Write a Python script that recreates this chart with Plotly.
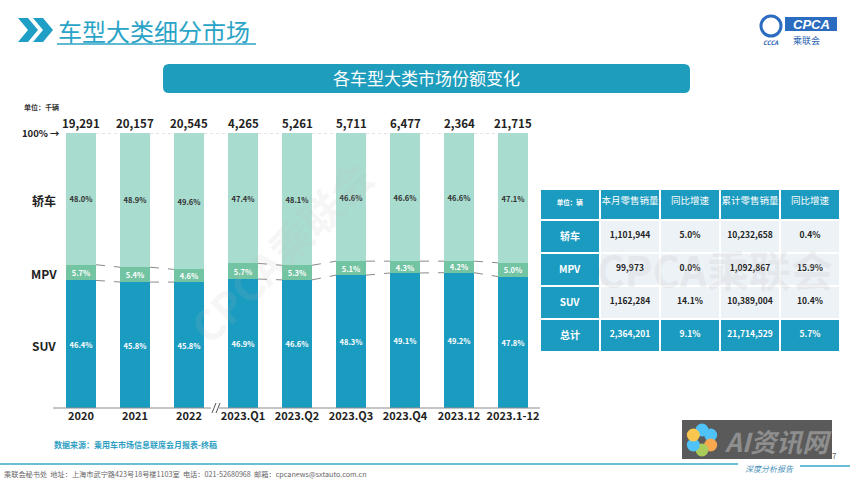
import math
import plotly.graph_objects as go

# ---------------- data ----------------
categories = ["2020", "2021", "2022", "2023.Q1", "2023.Q2", "2023.Q3", "2023.Q4", "2023.12", "2023.1-12"]
totals = [19291, 20157, 20545, 4265, 5261, 5711, 6477, 2364, 21715]
suv_share = [46.4, 45.8, 45.8, 46.9, 46.6, 48.3, 49.1, 49.2, 47.8]
mpv_share = [5.7, 5.4, 4.6, 5.7, 5.3, 5.1, 4.3, 4.2, 5.0]
sedan_share = [48.0, 48.9, 49.6, 47.4, 48.1, 46.6, 46.6, 46.6, 47.1]
segment_labels = ["轿车", "MPV", "SUV"]

table_header = ["单位：辆", "本月零售销量", "同比增速", "累计零售销量", "同比增速"]
table_rows = ["轿车", "MPV", "SUV", "总计"]
month_sales = [1101944, 99973, 1162284, 2364201]
month_yoy = ["5.0%", "0.0%", "14.1%", "9.1%"]
cum_sales = [10232658, 1092867, 10389004, 21714529]
cum_yoy = ["0.4%", "15.9%", "10.4%", "5.7%"]

# ---------------- styles ----------------
W, H = 852, 480
TEAL = "#1b9bc0"
SEDAN_C = "#a8dccf"
MPV_C = "#72c4a2"
SUV_C = "#1a9bc0"
FONT = "Noto Sans CJK SC, Noto Sans, Open Sans, sans-serif"


def px(x):
    return x / W


def py(y):
    return 1 - y / H


shapes = []
annotations = []


def note(x, y, text, size, color, xanchor="center", yanchor="middle", **kw):
    font = dict(size=size, color=color)
    font.update(kw.pop("font", {}))
    annotations.append(dict(x=px(x), y=py(y), xref="paper", yref="paper", text=text,
                            showarrow=False, xanchor=xanchor, yanchor=yanchor,
                            font=font, **kw))


x_idx = list(range(len(categories)))
BW = 30 / 54

fig = go.Figure()

for vals, col, tcol in ((suv_share, SUV_C, "white"), (mpv_share, MPV_C, "white"),
                        (sedan_share, SEDAN_C, "#333333")):
    fig.add_trace(go.Bar(
        x=x_idx, y=vals, width=BW, marker=dict(color=col, line=dict(width=0)),
        texttemplate="%{y:.1f}%", textposition="inside", insidetextanchor="middle",
        constraintext="none", textfont=dict(size=7.5, color=tcol, weight="bold"),
        hoverinfo="skip"))

# dashed connectors between MPV boundaries
lx, ly, ux, uy = [], [], [], []
for i in range(len(categories) - 1):
    if i == 2:
        continue
    x0, x1 = i + BW / 2, i + 1 - BW / 2
    lx += [x0, x1, None]
    ly += [suv_share[i], suv_share[i + 1], None]
    ux += [x0, x1, None]
    uy += [suv_share[i] + mpv_share[i], suv_share[i + 1] + mpv_share[i + 1], None]
for xs, ys in ((lx, ly), (ux, uy)):
    fig.add_trace(go.Scatter(x=xs, y=ys, mode="lines",
                             line=dict(color="#8a8a8a", width=1, dash="dash"),
                             hoverinfo="skip"))

# table
fill_cols, font_cols = [], []
for c in range(5):
    fills, fonts = [], []
    for r in range(4):
        if c == 0 or r == 3:
            fills.append(TEAL)
            fonts.append("white")
        else:
            fills.append("#edf2f7")
            fonts.append("#222222")
    fill_cols.append(fills)
    font_cols.append(fonts)

fig.add_trace(go.Table(
    domain=dict(x=[px(540), px(840)], y=[py(354), py(189)]),
    columnwidth=[60, 60, 60, 60, 60],
    header=dict(values=[f"<b>{h}</b>" if i == 0 else h for i, h in enumerate(table_header)],
                fill_color=TEAL, align="center", height=31,
                line=dict(color="white", width=2),
                font=dict(color="white", size=[6.5, 9.5, 9.5, 9.5, 9.5], family=FONT)),
    cells=dict(values=[[f"<b>{v}</b>" for v in table_rows],
                       [f"<b>{v:,}</b>" for v in month_sales],
                       [f"<b>{v}</b>" for v in month_yoy],
                       [f"<b>{v:,}</b>" for v in cum_sales],
                       [f"<b>{v}</b>" for v in cum_yoy]],
               fill_color=fill_cols, align="center", height=33,
               line=dict(color="white", width=2),
               font=dict(color=font_cols, size=[10, 8.5, 8.5, 8.5, 8.5], family=FONT)),
))

# top 100% dotted guide
shapes.append(dict(type="line", xref="x", yref="y", x0=-BW / 2, x1=len(categories) - 1 + BW / 2,
                   y0=100, y1=100, line=dict(color="#c8c8c8", width=1, dash="dot"), layer="below"))

# axis line with break
shapes.append(dict(type="line", xref="paper", yref="paper", x0=px(53), x1=px(211),
                   y0=py(408), y1=py(408), line=dict(color="#8c8c8c", width=1)))
shapes.append(dict(type="line", xref="paper", yref="paper", x0=px(219), x1=px(540),
                   y0=py(408), y1=py(408), line=dict(color="#8c8c8c", width=1)))
for dx in (0, 4):
    shapes.append(dict(type="line", xref="paper", yref="paper", x0=px(212 + dx), x1=px(216 + dx),
                       y0=py(413), y1=py(403), line=dict(color="#555", width=1)))

# totals above bars
for i, v in enumerate(totals):
    annotations.append(dict(x=i, y=100, xref="x", yref="y", xanchor="center", yanchor="bottom",
                            yshift=0, text=f"{v:,}", showarrow=False,
                            font=dict(size=11.5, color="#222", weight="bold")))

# segment row labels
for lab, yy in zip(segment_labels, [200, 273, 345]):
    note(44, yy, lab, 12, "#222", font=dict(weight="bold"))

note(62, 133, "100% →", 9.5, "#222", xanchor="right", font=dict(weight="bold"))
note(22, 107, "单位：千辆", 7, "#333", xanchor="left", font=dict(weight="bold"))

# chart title bar
x0, x1, y0, y1, r = 163, 690, 64, 93, 6
path = (f"M {px(x0 + r)},{py(y0)} L {px(x1 - r)},{py(y0)} Q {px(x1)},{py(y0)} {px(x1)},{py(y0 + r)} "
        f"L {px(x1)},{py(y1 - r)} Q {px(x1)},{py(y1)} {px(x1 - r)},{py(y1)} "
        f"L {px(x0 + r)},{py(y1)} Q {px(x0)},{py(y1)} {px(x0)},{py(y1 - r)} "
        f"L {px(x0)},{py(y0 + r)} Q {px(x0)},{py(y0)} {px(x0 + r)},{py(y0)} Z")
shapes.append(dict(type="path", xref="paper", yref="paper", path=path,
                   fillcolor="#1e9dbd", line=dict(width=0)))
note(427, 78, "各车型大类市场份额变化", 17, "white")

# page header
for off in (0, 15):
    pts = [(18, 18), (28, 18), (38, 30), (28, 42), (18, 42), (28, 30)]
    p = "M " + " L ".join(f"{px(a + off)},{py(b)}" for a, b in pts) + " Z"
    shapes.append(dict(type="path", xref="paper", yref="paper", path=p,
                       fillcolor="#1f9fc5", line=dict(width=0)))
note(56, 31, "车型大类细分市场", 24, "#2aa4c6", xanchor="left")
shapes.append(dict(type="line", xref="paper", yref="paper", x0=px(57), x1=px(256),
                   y0=py(44), y1=py(44), line=dict(color="#2aa4c6", width=1.5)))

# CPCA logo (approximation)
shapes.append(dict(type="rect", xref="paper", yref="paper", x0=px(785), x1=px(837),
                   y0=py(31), y1=py(17), fillcolor="#2b6cc0", line=dict(width=0)))
note(811, 24, "<i><b>CPCA</b></i>", 13, "white", font=dict(family="Liberation Sans"))
note(806, 40, "乘联会", 9, "#2b5fb0")
shapes.append(dict(type="circle", xref="paper", yref="paper", x0=px(761), x1=px(781),
                   y0=py(36), y1=py(16), line=dict(color="#2b6cc0", width=3)))
note(770, 42, "<i><b>CCCA</b></i>", 6, "#2b5fb0")

# watermarks
note(280, 250, "CPCA乘联会", 42, "rgba(190,190,190,0.15)", textangle=-45, font=dict(weight="bold"))
note(715, 268, "CPCA乘联会", 42, "rgba(190,190,190,0.2)", font=dict(weight="bold"))

# footer
note(52, 444, "数据来源：乘用车市场信息联席会月报表-终稿", 8, "#2e9fc2", xanchor="left",
     font=dict(weight="bold"))
shapes.append(dict(type="line", xref="paper", yref="paper", x0=0, x1=px(738),
                   y0=py(464), y1=py(464), line=dict(color="#3aa7c8", width=1.5)))
shapes.append(dict(type="line", xref="paper", yref="paper", x0=px(800), x1=px(850),
                   y0=py(466), y1=py(466), line=dict(color="#3aa7c8", width=1.5)))
note(769, 468, "<i>深度分析报告</i>", 8, "#4a90b8")
note(834, 455, "7", 8, "#666")
note(2, 474, "乘联会秘书处  地址：上海市武宁路423号18号楼1103室  电话：021-52680968  邮箱：cpcanews@sxtauto.com.cn",
     7.2, "#666", xanchor="left")

# AI资讯网 overlay
shapes.append(dict(type="rect", xref="paper", yref="paper", x0=px(682), x1=px(832),
                   y0=py(459), y1=py(420), fillcolor="#5a5a5a", line=dict(width=0)))
petal_colors = ["#4fc3f7", "#4fc3f7", "#f7a84f", "#a9cc5a", "#4fc3f7", "#f9c74f"]
for k, col in enumerate(petal_colors):
    ang = math.radians(90 - 60 * k)
    cx, cy = 702 + 10 * math.cos(ang), 440 - 10 * math.sin(ang)
    shapes.append(dict(type="circle", xref="paper", yref="paper",
                       x0=px(cx - 6.5), x1=px(cx + 6.5), y0=py(cy + 6.5), y1=py(cy - 6.5),
                       fillcolor=col, line=dict(width=0)))
note(778, 440, "<i><b>AI资讯网</b></i>", 26, "#8e8e8e")

fig.update_layout(
    width=W, height=H, margin=dict(l=0, r=0, t=0, b=0),
    paper_bgcolor="white", plot_bgcolor="white",
    barmode="stack", showlegend=False,
    font=dict(family=FONT, color="#222"),
    xaxis=dict(domain=[px(54), px(540)], range=[-0.5, len(categories) - 0.5],
               tickvals=x_idx, ticktext=categories, showgrid=False, zeroline=False,
               showline=False, ticks="", tickfont=dict(size=11, color="#222", weight="bold"),
               fixedrange=True),
    yaxis=dict(domain=[py(408), py(133)], range=[0, 100], visible=False, fixedrange=True),
    shapes=shapes, annotations=annotations,
)

fig.write_html("out.html", config={"displayModeBar": False},
               post_script="document.body.style.margin='0';document.body.style.overflow='hidden';")
